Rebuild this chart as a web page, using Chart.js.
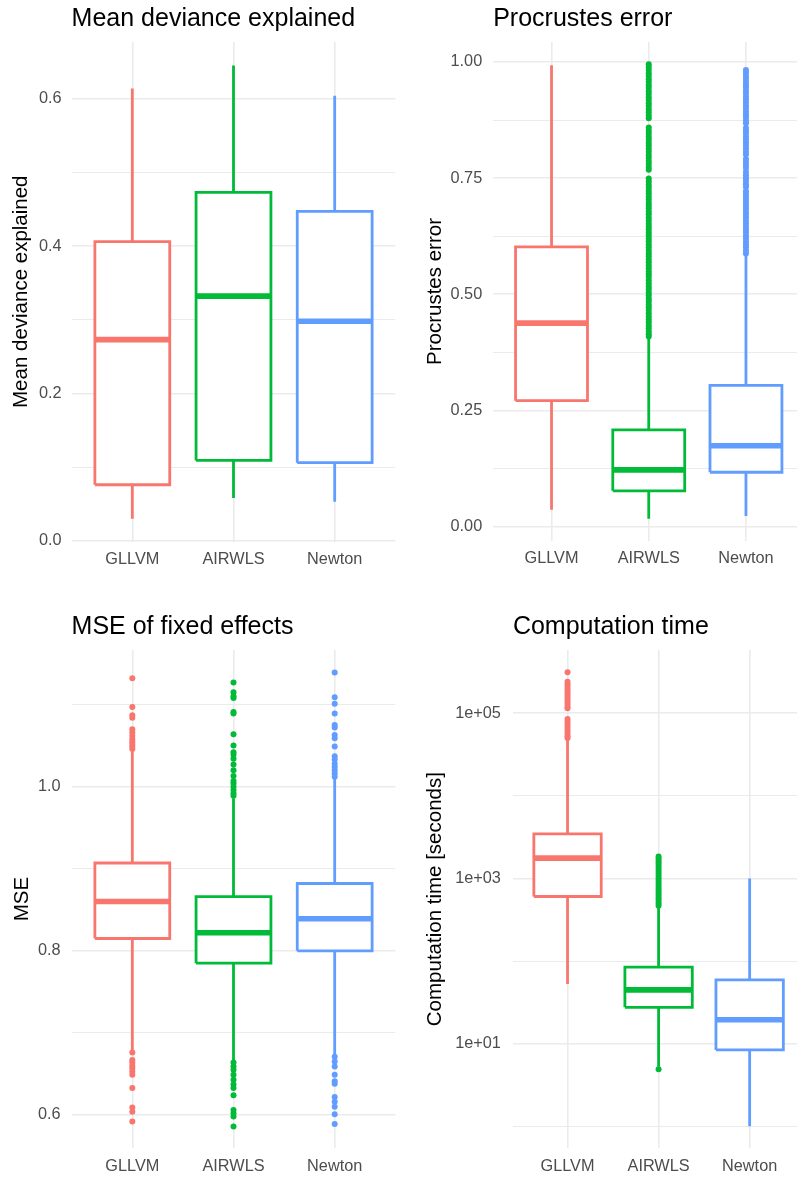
<!DOCTYPE html>
<html>
<head>
<meta charset="utf-8">
<script src="https://cdn.jsdelivr.net/npm/chart.js@4.4.0/dist/chart.umd.min.js"></script>
<style>
body{margin:0;background:#fff;width:801px;height:1177px;position:relative;overflow:hidden}
canvas{position:absolute}
</style>
</head>
<body>
<canvas id="devChart" width="400" height="590" style="left:0;top:0"></canvas>
<canvas id="procChart" width="401" height="590" style="left:400px;top:0"></canvas>
<canvas id="mseChart" width="400" height="587" style="left:0;top:590px"></canvas>
<canvas id="timeChart" width="401" height="587" style="left:400px;top:590px"></canvas>
<script>
const methods = ["GLLVM", "AIRWLS", "Newton"]
const colors = ["#F8766D", "#00BA38", "#619CFF"]

// mean deviance explained
const devLow = [0.030, 0.058, 0.053]
const devQ1 = [0.076, 0.109, 0.106]
const devMed = [0.273, 0.332, 0.298]
const devQ3 = [0.406, 0.473, 0.447]
const devHigh = [0.614, 0.645, 0.604]
const devTicks = [0, 0.2, 0.4, 0.6]
const devTickLabels = ["0.0", "0.2", "0.4", "0.6"]
const devMinor = [0.1, 0.3, 0.5]

// procrustes error
const procLow = [0.036, 0.017, 0.023]
const procQ1 = [0.271, 0.077, 0.117]
const procMed = [0.438, 0.122, 0.174]
const procQ3 = [0.602, 0.208, 0.304]
const procHigh = [0.993, 0.404, 0.584]
const procOutGLLVM = []
const procOutAIRWLS = [0.409,0.414,0.420,0.427,0.433,0.440,0.446,0.452,0.459,0.466,0.472,0.478,0.485,0.491,0.498,0.504,0.511,0.517,0.523,0.530,0.537,0.543,0.549,0.556,0.562,0.569,0.575,0.582,0.588,0.594,0.601,0.607,0.614,0.620,0.627,0.633,0.640,0.646,0.652,0.659,0.665,0.672,0.678,0.685,0.691,0.697,0.704,0.710,0.717,0.723,0.730,0.736,0.743,0.749,
  0.768,0.774,0.781,0.787,0.794,0.800,0.807,0.813,0.820,0.826,0.833,0.839,0.846,0.852,0.859,
  0.879,0.885,0.892,0.898,0.905,0.911,0.918,0.924,0.931,0.937,0.944,0.950,0.957,0.963,0.970,0.976,0.983,0.989,0.995]
const procOutNewton = [0.588,0.594,0.601,0.607,0.613,0.620,0.626,0.633,0.639,0.645,0.652,0.658,0.665,0.671,0.677,0.684,0.690,0.697,0.703,0.709,0.716,0.722,
  0.731,0.737,0.744,0.750,0.756,0.763,
  0.772,0.778,0.785,0.791,
  0.801,0.807,0.814,0.820,0.826,0.833,0.839,0.846,0.852,0.858,
  0.868,0.874,0.881,0.887,0.893,0.900,0.906,0.913,0.919,0.925,0.932,0.938,0.945,0.951,0.957,0.964,0.970,0.977,0.983]
const procTicks = [0, 0.25, 0.5, 0.75, 1]
const procTickLabels = ["0.00", "0.25", "0.50", "0.75", "1.00"]
const procMinor = [0.125, 0.375, 0.625, 0.875]

// MSE of fixed effects
const mseLow = [0.679, 0.665, 0.673]
const mseQ1 = [0.815, 0.785, 0.800]
const mseMed = [0.860, 0.822, 0.839]
const mseQ3 = [0.907, 0.866, 0.882]
const mseHigh = [1.043, 0.986, 1.010]
const mseOutGLLVM = [1.132,1.097,1.087,1.084,1.070,1.066,1.062,1.058,1.055,1.052,1.049,1.046,0.676,0.667,0.664,0.660,0.657,0.653,0.649,0.633,0.609,0.604,0.592]
const mseOutAIRWLS = [1.127,1.115,1.110,1.108,1.091,1.089,1.064,1.050,1.042,1.039,1.034,1.027,1.020,1.013,1.007,1.004,1.000,0.996,0.992,0.989,0.664,0.659,0.655,0.649,0.643,0.637,0.633,0.624,0.606,0.602,0.598,0.586]
const mseOutNewton = [1.139,1.109,1.101,1.089,1.075,1.072,1.063,1.059,1.049,1.037,1.033,1.028,1.024,1.020,1.016,1.012,0.671,0.665,0.659,0.649,0.641,0.638,0.622,0.616,0.610,0.601,0.589]
const mseTicks = [0.6, 0.8, 1.0]
const mseTickLabels = ["0.6", "0.8", "1.0"]
const mseMinor = [0.7, 0.9, 1.1]

// computation time (seconds)
const timeLow = [53, 5.25, 1.0]
const timeQ1 = [605, 27.6, 8.4]
const timeMed = [1766, 44.9, 19.5]
const timeQ3 = [3475, 84.5, 59.3]
const timeHigh = [48000, 447, 1000]
const timeOutGLLVM = [313000,240000,224000,209000,195000,182000,170000,158000,148000,138000,129000,120000,115000,85100,79400,74100,69200,64600,60300,56200,52500,50100]
const timeOutAIRWLS = [4.9,468,501,537,575,617,661,708,759,813,871,933,1000,1072,1148,1230,1318,1413,1514,1622,1738,1845]
const timeOutNewton = []
const timeTicks = [10, 1000, 100000]
const timeTickLabels = ["1e+01", "1e+03", "1e+05"]
const timeMinor = [1, 100, 10000]

Chart.defaults.font.family = "'Liberation Sans', Arial, sans-serif"
Chart.defaults.color = "#4d4d4d"

function seg(points, color, width, order){
  return {data: points, showLine: true, borderColor: color, borderWidth: width, pointRadius: 0,
    borderCapStyle: "butt", borderJoinStyle: "miter", fill: false, order: order}
}

function drawPanel(id, p){
  let datasets = []
  methods.forEach((m, i) => {
    let x = i + 1, c = colors[i], w = 0.37
    datasets.push({data: p.out[i].map(v => ({x: x, y: v})), showLine: false, pointRadius: 3,
      pointBackgroundColor: c, pointBorderWidth: 0, order: 0})
    datasets.push(seg([{x: x - w, y: p.med[i]}, {x: x + w, y: p.med[i]}], c, 5.6, 1))
    let box = seg([{x: x - w, y: p.q1[i]}, {x: x + w, y: p.q1[i]}, {x: x + w, y: p.q3[i]},
      {x: x - w, y: p.q3[i]}, {x: x - w, y: p.q1[i]}], c, 2.8, 2)
    box.fill = "shape"
    box.backgroundColor = "#ffffff"
    datasets.push(box)
    datasets.push(seg([{x: x, y: p.q3[i]}, {x: x, y: p.high[i]}], c, 2.8, 3))
    datasets.push(seg([{x: x, y: p.low[i]}, {x: x, y: p.q1[i]}], c, 2.8, 3))
  })

  new Chart(id, {
    type: "line",
    data: {datasets: datasets},
    options: {
      responsive: false,
      animation: false,
      events: [],
      layout: {padding: {left: 0, right: p.padRight, top: 0, bottom: 0}},
      plugins: {
        legend: {display: false},
        tooltip: {enabled: false},
        title: {
          display: true, text: p.title, align: "start", fullSize: false,
          color: "#000", font: {size: 25, weight: "normal"},
          padding: {top: p.titleTop, bottom: p.titleBottom}
        }
      },
      scales: {
        x: {
          type: "linear", min: 0.4, max: p.xMax,
          afterBuildTicks: s => { s.ticks = [1, 2, 3].map(v => ({value: v})) },
          afterFit: s => { s.height = p.axisH },
          ticks: {autoSkip: false, maxRotation: 0, padding: 8, color: "#4d4d4d",
            font: {size: 16.3}, callback: v => methods[v - 1]},
          grid: {color: "#ebebeb", lineWidth: 1.6, drawTicks: false},
          border: {display: false}
        },
        y: {
          type: p.log ? "logarithmic" : "linear", min: p.yMin, max: p.yMax, bounds: "data",
          afterBuildTicks: s => {
            let all = p.ticks.map(v => ({value: v, main: true})).concat(p.minor.map(v => ({value: v, main: false})))
            s.ticks = all.sort((a, b) => a.value - b.value)
          },
          afterFit: s => { s.width = p.axisW },
          ticks: {autoSkip: false, padding: p.tickPad, color: "#4d4d4d", font: {size: 16.3},
            callback: v => { let k = p.ticks.indexOf(v); return k >= 0 ? p.labels[k] : "" }},
          grid: {color: "#ebebeb", lineWidth: ctx => ctx.tick && ctx.tick.main ? 1.6 : 1.0, drawTicks: false},
          border: {display: false},
          title: {display: true, text: p.yTitle, color: "#000", font: {size: 20.5}, padding: {top: p.yTitlePad}}
        }
      }
    }
  })
}

window.onload = () => {
  drawPanel("devChart", {
    title: "Mean deviance explained", yTitle: "Mean deviance explained",
    low: devLow, q1: devQ1, med: devMed, q3: devQ3, high: devHigh, out: [[], [], []],
    ticks: devTicks, labels: devTickLabels, minor: devMinor,
    yMin: -0.001, yMax: 0.677, xMax: 3.6,
    axisW: 71.6, axisH: 48.5, padRight: 4.6, titleTop: 4.5, titleBottom: 7.5, tickPad: 10, yTitlePad: 9.5
  })
  drawPanel("procChart", {
    title: "Procrustes error", yTitle: "Procrustes error",
    low: procLow, q1: procQ1, med: procMed, q3: procQ3, high: procHigh,
    out: [procOutGLLVM, procOutAIRWLS, procOutNewton],
    ticks: procTicks, labels: procTickLabels, minor: procMinor,
    yMin: -0.031, yMax: 1.043, xMax: 3.525,
    axisW: 93.2, axisH: 49, padRight: 0, titleTop: 4.5, titleBottom: 7.5, tickPad: 11, yTitlePad: 23.4
  })
  drawPanel("mseChart", {
    title: "MSE of fixed effects", yTitle: "MSE",
    low: mseLow, q1: mseQ1, med: mseMed, q3: mseQ3, high: mseHigh,
    out: [mseOutGLLVM, mseOutAIRWLS, mseOutNewton],
    ticks: mseTicks, labels: mseTickLabels, minor: mseMinor,
    yMin: 0.5594, yMax: 1.1665, xMax: 3.6,
    axisW: 71.6, axisH: 28.7, padRight: 4.6, titleTop: 21.9, titleBottom: 8.1, tickPad: 11, yTitlePad: 10
  })
  drawPanel("timeChart", {
    title: "Computation time", yTitle: "Computation time [seconds]",
    low: timeLow, q1: timeQ1, med: timeMed, q3: timeQ3, high: timeHigh,
    out: [timeOutGLLVM, timeOutAIRWLS, timeOutNewton],
    ticks: timeTicks, labels: timeTickLabels, minor: timeMinor, log: true,
    yMin: 0.542, yMax: 583000, xMax: 3.52,
    axisW: 112.9, axisH: 28.7, padRight: 0, titleTop: 21.9, titleBottom: 8.1, tickPad: 12, yTitlePad: 22.7
  })
}
</script>
</body>
</html>
